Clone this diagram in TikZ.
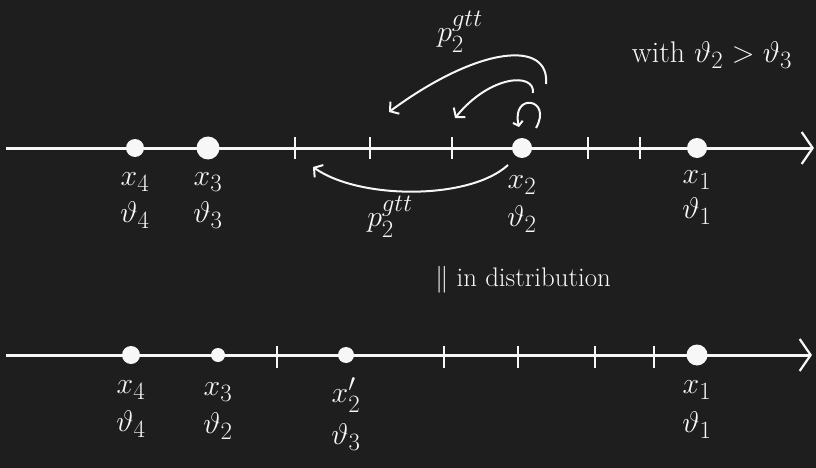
\documentclass[tikz,border=0pt]{standalone}
\usepackage{amsmath,amssymb}
\usepackage{xcolor}
\usepackage{tikz}
\usetikzlibrary{arrows.meta,positioning}
\definecolor{board}{HTML}{1E1E1E}
\definecolor{chalk}{HTML}{F7F7F7}

\begin{document}
\begin{tikzpicture}[x=1pt,y=-1pt,font=\Huge,color=chalk,
  axis/.style={line width=3pt,-{Straight Barb[length=11pt,width=32pt,line width=2.2pt]}},
  tickmark/.style={line width=1.8pt},
  chalkdot/.style={circle,fill=chalk,inner sep=0pt,minimum size=#1},
  chalkdot/.default=20pt,
  hop/.style={line width=2pt,-{Straight Barb[length=6pt,width=15pt,line width=2pt]}},
  chalktext/.style={scale=1.2},
  lbl/.style={chalktext,inner sep=1pt}]
  % chalkboard
  \fill[board] (0,0) rectangle (816,468);
  \useasboundingbox (0,0) rectangle (816,468);

  % upper line: the original points
  \coordinate (ua) at (6,148);
  \coordinate (ub) at (814,148);
  \draw[axis] (ua) -- (ub);
  \foreach \t in {295,370,452,588,640}
    \draw[tickmark] (\t,137) -- (\t,159);
  \node[chalkdot=18pt] (u4) at (135,148) {};
  \node[chalkdot=23pt] (u3) at (208,148) {};
  \node[chalkdot] (u2) at (522,148) {};
  \node[chalkdot] (u1) at (697,148) {};

  \node[lbl,below=14pt of u4] (ux4) {$x_4$};
  \node[lbl,below=8pt of ux4] (ut4) {$\vartheta_4$};
  \node[lbl,below=12pt of u3] (ux3) {$x_3$};
  \node[lbl,below=7pt of ux3] (ut3) {$\vartheta_3$};
  \node[lbl,below=16pt of u2] (ux2) {$x_2$};
  \node[lbl,below=9pt of ux2] (ut2) {$\vartheta_2$};
  \node[lbl,below=11pt of u1] (ux1) {$x_1$};
  \node[lbl,below=6pt of ux1] (ut1) {$\vartheta_1$};

  % jumps of x_2
  \coordinate (j1a) at (546,84);
  \coordinate (j1b) at (389,112);
  \coordinate (j2a) at (533,93);
  \coordinate (j2b) at (455,118);
  \coordinate (j3a) at (536,128);
  \coordinate (j3b) at (519,127);
  \coordinate (j4a) at (508,165);
  \coordinate (j4b) at (313,167);
  \draw[hop] (j1a) .. controls (550,40) and (480,45) .. (j1b);
  \draw[hop] (j2a) .. controls (535,72) and (490,75) .. (j2b);
  \draw[hop,-{Straight Barb[length=4pt,width=10pt,line width=2pt]}]
    (j3a) .. controls (553,98) and (511,92) .. (j3b);
  \draw[hop] (j4a) .. controls (470,200) and (360,200) .. (j4b);
  \node[chalktext] (pup) at (460,32) {$p_2^{gtt}$};
  \node[chalktext] (pdn) at (390,217) {$p_2^{gtt}$};

  \node[chalktext] (cond) at (712,55) {with $\vartheta_2>\vartheta_3$};
  \node[chalktext,scale=0.9] (eqd) at (523,280) {$\|$ in distribution};

  % lower line: after the swap
  \coordinate (la) at (6,355);
  \coordinate (lb) at (812,355);
  \draw[axis] (la) -- (lb);
  \foreach \t in {277,444,518,595,654}
    \draw[tickmark] (\t,346) -- (\t,368);
  \node[chalkdot=18pt] (l4) at (131,355) {};
  \node[chalkdot=14pt] (l3) at (218,355) {};
  \node[chalkdot=16pt] (l2) at (346,355) {};
  \node[chalkdot=21pt] (l1) at (697,355) {};

  \node[lbl,below=15pt of l4] (lx4) {$x_4$};
  \node[lbl,below=9pt of lx4] (lt4) {$\vartheta_4$};
  \node[lbl,below=19pt of l3] (lx3) {$x_3$};
  \node[lbl,below=9pt of lx3] (lt3) {$\vartheta_2$};
  \node[lbl,below=13pt of l2] (lx2) {$x_2'$};
  \node[lbl,below=9pt of lx2] (lt2) {$\vartheta_3$};
  \node[lbl,below=14pt of l1] (lx1) {$x_1$};
  \node[lbl,below=9pt of lx1] (lt1) {$\vartheta_1$};
\end{tikzpicture}
\end{document}
